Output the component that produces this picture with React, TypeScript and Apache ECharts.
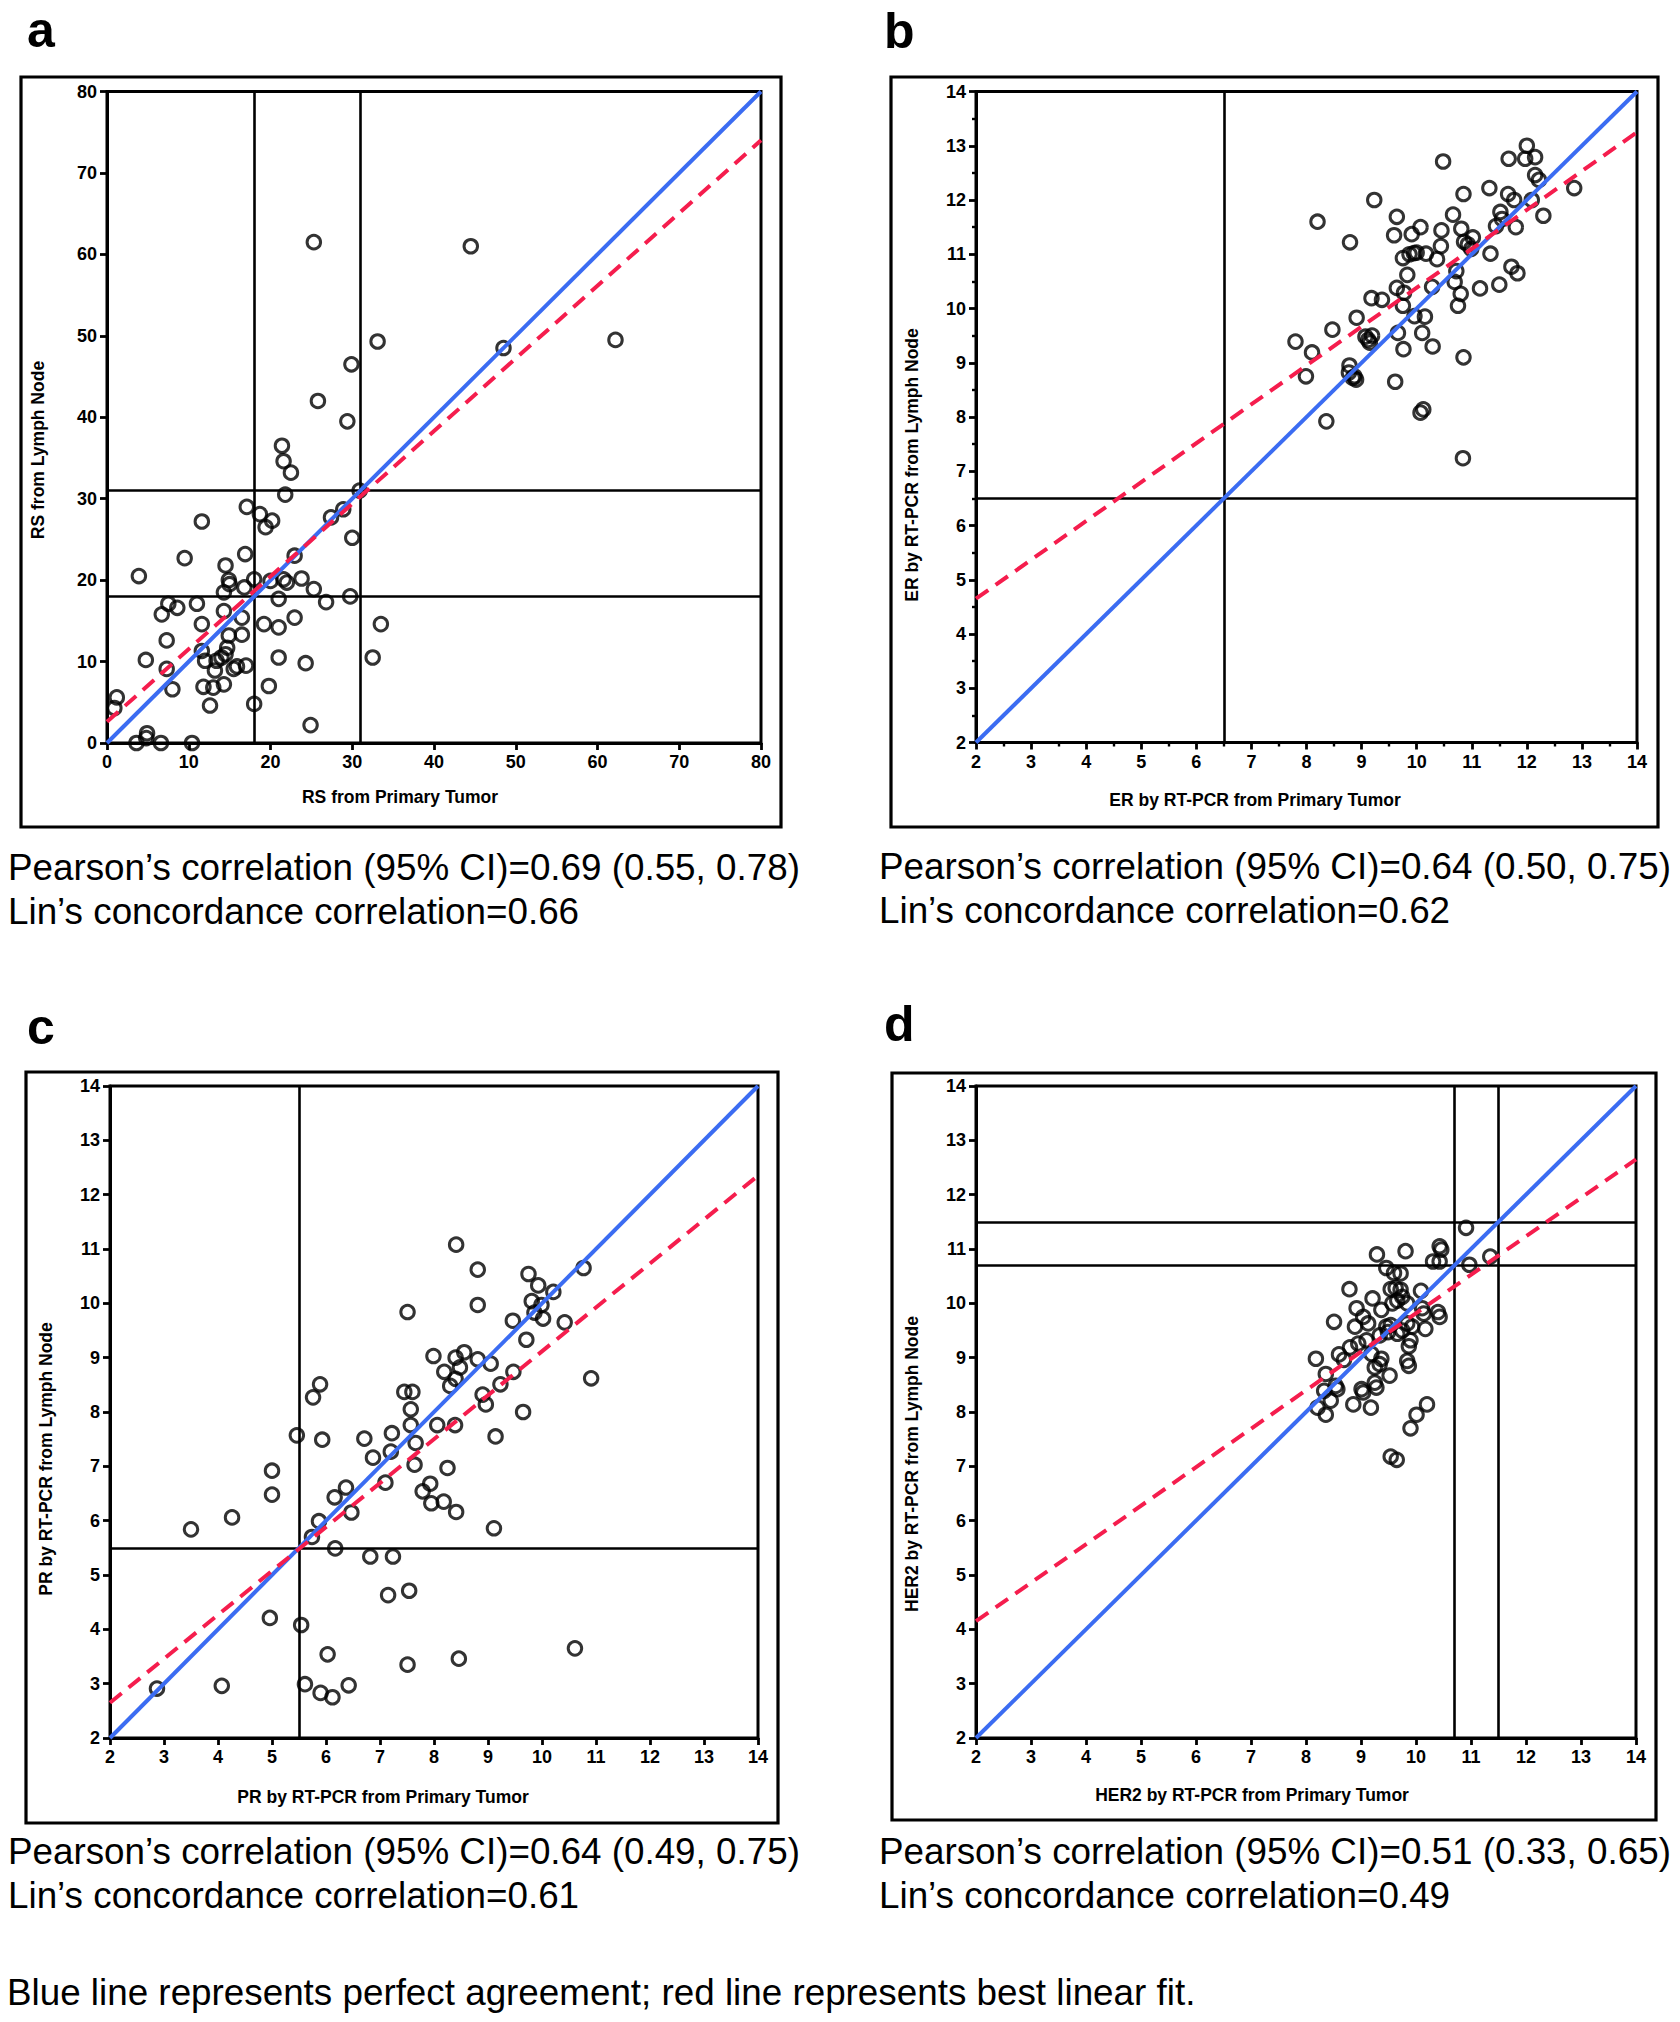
import React, { useEffect, useRef } from "react";
import * as echarts from "echarts";

const FONT = '"Liberation Sans", Arial, Helvetica, sans-serif';

// ---------- data ----------
const rsPoints: [number, number][] = [
  [3.9, 20.5], [11.6, 27.2], [9.5, 22.7], [1.2, 5.6], [0.9, 4.3], [3.6, 0], [4.9, 1.2], [4.8, 0.6],
  [6.6, 0], [10.4, 0], [4.75, 10.2], [7.3, 12.6], [6.7, 15.8], [7.5, 17.1], [8.6, 16.6], [7.3, 9.1],
  [8.0, 6.6], [11.0, 17.1], [11.6, 14.6], [11.6, 11.3], [12.0, 10.1], [11.8, 6.9], [12.6, 4.6], [13.0, 6.8],
  [13.2, 8.9], [13.4, 10.1], [14.0, 10.5], [14.3, 7.2], [14.5, 10.9], [14.7, 11.7], [14.9, 13.2], [14.5, 21.8],
  [14.9, 20.0], [15.0, 19.5], [14.3, 18.5], [14.3, 16.2], [15.5, 9.1], [15.9, 9.4], [16.5, 15.4], [16.5, 13.3],
  [17.0, 9.5], [16.8, 19.1], [16.9, 23.2], [17.1, 29.0], [18.0, 4.8], [18.0, 20.1], [18.7, 28.1], [19.4, 26.5],
  [20.2, 27.3], [19.2, 14.6], [19.8, 7.0], [20.0, 19.9], [21.0, 17.7], [21.0, 14.2], [21.0, 10.5], [21.6, 20.1],
  [22.0, 19.7], [21.8, 30.5], [21.4, 36.5], [21.6, 34.6], [22.5, 33.2], [22.95, 23.0], [22.95, 15.4], [23.8, 20.2],
  [25.3, 18.9], [26.8, 17.3], [24.3, 9.8], [24.9, 2.2], [27.4, 27.7], [28.9, 28.7], [30.0, 25.2], [29.75, 18.0],
  [30.9, 31.0], [32.5, 10.5], [33.5, 14.6], [25.3, 61.5], [44.5, 61.0], [33.1, 49.3], [29.9, 46.5], [25.8, 42.0],
  [29.4, 39.5], [48.5, 48.5], [62.2, 49.5],
];

const erPoints: [number, number][] = [
  [12.0, 13.0], [11.67, 12.76], [11.97, 12.76], [12.15, 12.79], [10.48, 12.71], [12.15, 12.46], [12.22, 12.37],
  [11.32, 12.22], [12.86, 12.22], [11.66, 12.11], [10.85, 12.11], [11.77, 12.0], [12.09, 12.0], [9.23, 12.0],
  [11.52, 11.78], [10.66, 11.73], [9.64, 11.69], [12.3, 11.71], [8.2, 11.6], [11.44, 11.52], [11.8, 11.5],
  [10.07, 11.5], [10.45, 11.44], [10.81, 11.47], [9.91, 11.37], [9.59, 11.35], [11.02, 11.31], [10.86, 11.23],
  [8.79, 11.22], [10.44, 11.15], [10.99, 11.1], [10.0, 11.03], [9.87, 11.0], [10.17, 11.01], [11.34, 11.01],
  [9.75, 10.93], [10.37, 10.91], [9.83, 10.62], [10.72, 10.69], [11.72, 10.77], [11.83, 10.65], [9.64, 10.38],
  [9.77, 10.29], [10.28, 10.4], [10.69, 10.49], [10.8, 10.27], [11.15, 10.37], [11.5, 10.44], [9.18, 10.19],
  [9.37, 10.16], [9.75, 10.05], [10.75, 10.05], [8.91, 9.83], [9.96, 9.86], [10.15, 9.85], [8.47, 9.61],
  [9.66, 9.55], [10.1, 9.55], [9.07, 9.48], [9.19, 9.5], [7.8, 9.39], [9.15, 9.37], [10.29, 9.3], [9.76, 9.25],
  [8.1, 9.19], [10.85, 9.1], [8.78, 8.95], [8.77, 8.82], [8.87, 8.75], [8.9, 8.69], [7.99, 8.75], [9.61, 8.65],
  [10.12, 8.14], [10.07, 8.08], [8.36, 7.92], [10.84, 7.24], [9.12, 9.42], [8.84, 8.72], [10.93, 11.18],
  [11.55, 11.65], [9.95, 11.02],
];

const prPoints: [number, number][] = [
  [8.41, 11.08], [8.81, 10.62], [9.75, 10.54], [9.93, 10.33], [10.77, 10.65], [10.21, 10.21], [8.81, 9.97],
  [9.81, 10.04], [9.99, 9.97], [9.86, 9.83], [10.02, 9.72], [9.46, 9.68], [10.42, 9.65], [7.51, 9.84],
  [9.71, 9.33], [7.99, 9.03], [8.4, 9.0], [8.56, 9.1], [8.81, 8.97], [9.05, 8.89], [8.48, 8.82], [8.19, 8.74],
  [9.47, 8.74], [8.4, 8.61], [8.3, 8.48], [9.23, 8.51], [10.91, 8.62], [5.89, 8.51], [5.76, 8.27], [7.45, 8.37],
  [7.6, 8.37], [8.9, 8.32], [8.96, 8.14], [7.57, 8.05], [9.65, 8.0], [5.46, 7.57], [5.93, 7.49], [6.71, 7.51],
  [7.22, 7.61], [7.57, 7.76], [8.06, 7.76], [8.39, 7.76], [9.14, 7.55], [6.87, 7.16], [7.2, 7.27], [7.66, 7.43],
  [7.64, 7.03], [8.25, 6.97], [7.1, 6.7], [5.0, 6.92], [5.0, 6.48], [6.37, 6.61], [6.16, 6.43], [6.47, 6.15],
  [7.79, 6.54], [7.93, 6.68], [7.95, 6.32], [8.18, 6.35], [8.41, 6.16], [4.26, 6.06], [3.5, 5.84], [5.87, 5.99],
  [5.74, 5.7], [9.11, 5.86], [6.17, 5.49], [6.82, 5.34], [7.24, 5.34], [7.15, 4.63], [7.54, 4.71], [4.96, 4.21],
  [5.54, 4.08], [6.03, 3.54], [7.51, 3.35], [8.46, 3.46], [10.61, 3.65], [2.87, 2.91], [4.07, 2.96], [5.61, 2.99],
  [5.9, 2.83], [6.12, 2.75], [6.42, 2.97],
];

const her2Points: [number, number][] = [
  [10.91, 11.39], [9.29, 10.9], [9.81, 10.96], [10.43, 11.05], [10.46, 10.99], [10.31, 10.77], [10.43, 10.77],
  [10.97, 10.71], [11.35, 10.86], [9.46, 10.65], [9.6, 10.56], [9.72, 10.55], [8.79, 10.26], [9.21, 10.09],
  [9.54, 10.26], [9.63, 10.28], [9.72, 10.25], [10.09, 10.23], [8.92, 9.91], [9.37, 9.88], [9.57, 10.0],
  [9.66, 10.05], [9.75, 10.12], [9.84, 10.0], [10.11, 9.91], [10.14, 9.81], [8.51, 9.66], [8.89, 9.57],
  [9.04, 9.75], [9.13, 9.63], [9.46, 9.57], [9.54, 9.6], [9.84, 9.63], [9.93, 9.57], [10.17, 9.53], [10.4, 9.84],
  [10.43, 9.75], [8.8, 9.19], [8.95, 9.26], [9.1, 9.32], [9.34, 9.41], [9.49, 9.47], [9.66, 9.44], [9.75, 9.5],
  [9.87, 9.21], [9.9, 9.32], [8.18, 8.98], [8.6, 9.06], [8.69, 8.96], [9.19, 9.07], [9.34, 8.88], [9.37, 8.98],
  [9.84, 8.94], [9.87, 8.85], [8.36, 8.7], [9.25, 8.82], [9.52, 8.67], [8.33, 8.39], [8.54, 8.48], [8.57, 8.42],
  [9.01, 8.42], [9.04, 8.36], [9.25, 8.54], [9.28, 8.45], [8.45, 8.21], [8.21, 8.08], [8.36, 7.95], [8.86, 8.14],
  [9.18, 8.08], [10.2, 8.14], [10.01, 7.95], [9.9, 7.7], [9.54, 7.18], [9.65, 7.12],
];

// best linear fit lines: value at axis min and at axis max
const rsFit = [2.6, 74.0];
const erFit = [4.65, 13.25];
const prFit = [2.65, 12.35];
const her2Fit = [4.15, 12.65];

// cut-off reference lines
const rsCuts = [18, 31];
const erCuts = [6.5];
const prCuts = [5.5];
const her2Cuts = [10.7, 11.5];

const xTitles = [
  "RS from Primary Tumor",
  "ER by RT-PCR from Primary Tumor",
  "PR by RT-PCR from Primary Tumor",
  "HER2 by RT-PCR from Primary Tumor",
];
const yTitles = [
  "RS from Lymph Node",
  "ER by RT-PCR from Lymph Node",
  "PR by RT-PCR from Lymph Node",
  "HER2 by RT-PCR from Lymph Node",
];
const pearsonTexts = [
  "Pearson\u2019s correlation (95% CI)=0.69 (0.55, 0.78)",
  "Pearson\u2019s correlation (95% CI)=0.64 (0.50, 0.75)",
  "Pearson\u2019s correlation (95% CI)=0.64 (0.49, 0.75)",
  "Pearson\u2019s correlation (95% CI)=0.51 (0.33, 0.65)",
];
const linTexts = [
  "Lin\u2019s concordance correlation=0.66",
  "Lin\u2019s concordance correlation=0.62",
  "Lin\u2019s concordance correlation=0.61",
  "Lin\u2019s concordance correlation=0.49",
];
const panelLetters = ["a", "b", "c", "d"];
const caption = "Blue line represents perfect agreement; red line represents best linear fit.";

// ---------- layout ----------
const layouts = [
  { grid: { left: 107, top: 91.5, width: 654, height: 651.5 }, frame: [21, 77, 760, 750], letter: [27, 30], xT: [400, 797], yT: [38, 450], txt: [8, 867] },
  { grid: { left: 976, top: 91.5, width: 661, height: 651 }, frame: [891, 77, 767, 750], letter: [884, 31], xT: [1255, 800], yT: [912, 465], txt: [879, 866] },
  { grid: { left: 110, top: 1086, width: 648, height: 652 }, frame: [26, 1072, 752, 751], letter: [27, 1027], xT: [383, 1797], yT: [46, 1459], txt: [8, 1851] },
  { grid: { left: 976, top: 1086, width: 660, height: 652 }, frame: [892, 1073, 764, 747], letter: [884, 1024], xT: [1252, 1795], yT: [912, 1464], txt: [879, 1851] },
];

const panels = [
  { points: rsPoints, fit: rsFit, cuts: rsCuts, min: 0, max: 80, interval: 10, minor: false },
  { points: erPoints, fit: erFit, cuts: erCuts, min: 2, max: 14, interval: 1, minor: true },
  { points: prPoints, fit: prFit, cuts: prCuts, min: 2, max: 14, interval: 1, minor: false },
  { points: her2Points, fit: her2Fit, cuts: her2Cuts, min: 2, max: 14, interval: 1, minor: false },
];

const BLUE = "#3b6cf2";
const RED = "#f51d4d";

function axisCommon(p: any, i: number) {
  return {
    gridIndex: i,
    type: "value",
    min: p.min,
    max: p.max,
    interval: p.interval,
    axisLine: { show: true, onZero: false, lineStyle: { color: "#000", width: 3 } },
    axisTick: { show: true, length: 7, lineStyle: { color: "#000", width: 2.8 } },
    minorTick: { show: p.minor, splitNumber: 2, length: 4, lineStyle: { color: "#000", width: 2.4 } },
    axisLabel: {
      show: true,
      color: "#000",
      fontWeight: "bold",
      fontSize: 18,
      fontFamily: FONT,
      margin: 10,
      showMinLabel: true,
      showMaxLabel: true,
    },
    splitLine: { show: false },
  };
}

export default function App() {
  const ref = useRef<HTMLDivElement>(null);

  useEffect(() => {
    if (!ref.current) return;
    const chart = echarts.init(ref.current, null, { renderer: "svg", width: 1680, height: 2022 });

    const grids: any[] = [];
    const xAxes: any[] = [];
    const yAxes: any[] = [];
    const series: any[] = [];
    const graphics: any[] = [];

    panels.forEach((p, i) => {
      const L = layouts[i];
      grids.push({ ...L.grid, show: true, borderColor: "#000", borderWidth: 3, backgroundColor: "transparent" });
      xAxes.push(axisCommon(p, i));
      yAxes.push(axisCommon(p, i));

      const markData: any[] = [];
      p.cuts.forEach((c) => {
        markData.push({ xAxis: c });
        markData.push({ yAxis: c });
      });

      series.push({
        type: "scatter",
        xAxisIndex: i,
        yAxisIndex: i,
        data: p.points,
        symbol: "circle",
        symbolSize: 13.5,
        itemStyle: { color: "rgba(0,0,0,0)", borderColor: "#000", borderWidth: 3 },
        emphasis: { disabled: true },
        silent: true,
        z: 3,
        markLine: {
          silent: true,
          symbol: "none",
          label: { show: false },
          lineStyle: { color: "#000", width: 2.6, type: "solid" },
          data: markData,
          z: 2,
        },
      });
      series.push({
        type: "line",
        xAxisIndex: i,
        yAxisIndex: i,
        data: [
          [p.min, p.min],
          [p.max, p.max],
        ],
        symbol: "none",
        silent: true,
        lineStyle: { color: BLUE, width: 4 },
        z: 4,
      });
      series.push({
        type: "line",
        xAxisIndex: i,
        yAxisIndex: i,
        data: [
          [p.min, p.fit[0]],
          [p.max, p.fit[1]],
        ],
        symbol: "none",
        silent: true,
        lineStyle: { color: RED, width: 4, type: [15, 9] },
        z: 4,
      });

      // outer frame
      graphics.push({
        type: "rect",
        silent: true,
        shape: { x: L.frame[0], y: L.frame[1], width: L.frame[2], height: L.frame[3] },
        style: { fill: "none", stroke: "#000", lineWidth: 3.2 },
      });
      // panel letter
      graphics.push({
        type: "text",
        silent: true,
        x: L.letter[0],
        y: L.letter[1],
        style: { text: panelLetters[i], font: `bold 50px ${FONT}`, fill: "#000", textAlign: "left", textVerticalAlign: "middle" },
      });
      // axis titles
      graphics.push({
        type: "text",
        silent: true,
        x: L.xT[0],
        y: L.xT[1],
        style: { text: xTitles[i], font: `bold 17.5px ${FONT}`, fill: "#000", textAlign: "center", textVerticalAlign: "middle" },
      });
      graphics.push({
        type: "text",
        silent: true,
        x: L.yT[0],
        y: L.yT[1],
        rotation: Math.PI / 2,
        style: { text: yTitles[i], font: `bold 17.5px ${FONT}`, fill: "#000", textAlign: "center", textVerticalAlign: "middle" },
      });
      // statistics texts
      graphics.push({
        type: "text",
        silent: true,
        x: L.txt[0],
        y: L.txt[1],
        style: { text: pearsonTexts[i], font: `36.8px ${FONT}`, fill: "#000", textAlign: "left", textVerticalAlign: "middle" },
      });
      graphics.push({
        type: "text",
        silent: true,
        x: L.txt[0],
        y: L.txt[1] + 44,
        style: { text: linTexts[i], font: `36.8px ${FONT}`, fill: "#000", textAlign: "left", textVerticalAlign: "middle" },
      });
    });

    graphics.push({
      type: "text",
      silent: true,
      x: 7,
      y: 1992,
      style: { text: caption, font: `36.8px ${FONT}`, fill: "#000", textAlign: "left", textVerticalAlign: "middle" },
    });

    chart.setOption({
      animation: false,
      backgroundColor: "#fff",
      grid: grids,
      xAxis: xAxes,
      yAxis: yAxes,
      series,
      graphic: graphics,
    });

    return () => chart.dispose();
  }, []);

  return (
    <div
      ref={ref}
      style={{ position: "absolute", left: 0, top: 0, width: 1680, height: 2022, background: "#fff" }}
    />
  );
}
